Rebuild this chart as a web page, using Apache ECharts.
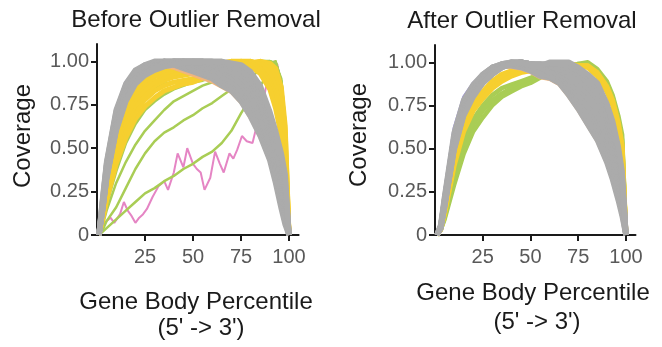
<!DOCTYPE html>
<html>
<head>
<meta charset="utf-8">
<script src="https://cdn.jsdelivr.net/npm/echarts@6.0.0/dist/echarts.min.js"></script>
<style>
  html, body { margin: 0; padding: 0; background: #fff; }
  #chart { width: 662px; height: 347px; }
</style>
</head>
<body>
<div id="chart"></div>
<script>
// gene body percentile positions shared by the curves
const pct = [1, 3, 5, 10, 15, 20, 25, 30, 35, 40, 45, 50, 55, 60, 65, 70, 75, 80, 85, 90, 93, 96, 98, 100]

const yTicks = [0, 0.25, 0.5, 0.75, 1]
const yTickLabels = ['0', '0.25', '0.50', '0.75', '1.00']
const xTicks = [25, 50, 75, 100]

// ---- before outlier removal ----
const grayBefore = [
  [0, 0.22, 0.42, 0.72, 0.87, 0.95, 0.98, 0.99, 0.99, 0.98, 0.96, 0.94, 0.92, 0.90, 0.86, 0.83, 0.77, 0.68, 0.57, 0.43, 0.30, 0.15, 0.06, 0],
  [0, 0.21, 0.41, 0.71, 0.86, 0.94, 0.97, 0.99, 1.00, 0.99, 0.97, 0.95, 0.93, 0.91, 0.88, 0.85, 0.79, 0.71, 0.60, 0.46, 0.33, 0.18, 0.08, 0],
  [0, 0.20, 0.40, 0.70, 0.86, 0.94, 0.98, 1.00, 1.00, 0.99, 0.98, 0.96, 0.94, 0.92, 0.89, 0.86, 0.81, 0.73, 0.63, 0.49, 0.36, 0.21, 0.10, 0],
  [0, 0.19, 0.38, 0.68, 0.84, 0.93, 0.97, 0.99, 1.00, 1.00, 0.99, 0.98, 0.96, 0.95, 0.91, 0.88, 0.83, 0.76, 0.66, 0.52, 0.39, 0.24, 0.12, 0],
  [0, 0.18, 0.36, 0.65, 0.82, 0.91, 0.96, 0.98, 0.99, 1.00, 0.99, 0.99, 0.97, 0.96, 0.92, 0.89, 0.85, 0.78, 0.68, 0.54, 0.42, 0.27, 0.15, 0],
  [0, 0.18, 0.37, 0.66, 0.83, 0.92, 0.96, 0.99, 1.00, 1.00, 1.00, 0.99, 0.98, 0.97, 0.94, 0.91, 0.87, 0.80, 0.71, 0.57, 0.45, 0.30, 0.17, 0],
  [0, 0.17, 0.35, 0.64, 0.81, 0.90, 0.95, 0.98, 0.99, 1.00, 1.00, 1.00, 0.99, 0.98, 0.95, 0.93, 0.89, 0.83, 0.74, 0.60, 0.48, 0.33, 0.20, 0],
  [0, 0.16, 0.34, 0.63, 0.80, 0.90, 0.95, 0.98, 0.99, 1.00, 1.00, 0.99, 0.99, 0.98, 0.96, 0.94, 0.91, 0.85, 0.76, 0.62, 0.50, 0.36, 0.23, 0],
  [0, 0.16, 0.34, 0.62, 0.79, 0.89, 0.94, 0.97, 0.99, 1.00, 1.00, 1.00, 1.00, 0.99, 0.97, 0.96, 0.93, 0.88, 0.79, 0.65, 0.53, 0.39, 0.26, 0],
  [0, 0.15, 0.33, 0.61, 0.78, 0.88, 0.93, 0.97, 0.98, 0.99, 1.00, 1.00, 1.00, 0.99, 0.98, 0.97, 0.95, 0.90, 0.82, 0.67, 0.56, 0.42, 0.29, 0],
  [0, 0.15, 0.33, 0.61, 0.78, 0.88, 0.93, 0.96, 0.98, 0.99, 1.00, 1.00, 1.00, 1.00, 0.99, 0.98, 0.97, 0.92, 0.84, 0.69, 0.58, 0.45, 0.32, 0],
  [0, 0.15, 0.32, 0.60, 0.77, 0.87, 0.92, 0.95, 0.97, 0.98, 0.99, 1.00, 1.00, 1.00, 1.00, 0.99, 0.98, 0.94, 0.86, 0.71, 0.60, 0.47, 0.35, 0]
]
const yellowBefore = [
  [0, 0.15, 0.32, 0.58, 0.75, 0.85, 0.90, 0.94, 0.96, 0.97, 0.97, 0.98, 0.98, 0.99, 0.99, 1.00, 0.99, 0.97, 0.93, 0.84, 0.73, 0.57, 0.40, 0],
  [0, 0.14, 0.31, 0.56, 0.73, 0.83, 0.89, 0.92, 0.95, 0.96, 0.97, 0.97, 0.98, 0.98, 0.99, 0.99, 1.00, 0.98, 0.95, 0.87, 0.77, 0.61, 0.43, 0],
  [0, 0.13, 0.29, 0.54, 0.71, 0.81, 0.87, 0.91, 0.93, 0.95, 0.96, 0.96, 0.97, 0.98, 0.99, 1.00, 1.00, 0.99, 0.96, 0.89, 0.80, 0.64, 0.45, 0],
  [0, 0.12, 0.27, 0.51, 0.68, 0.78, 0.84, 0.88, 0.91, 0.93, 0.94, 0.95, 0.96, 0.97, 0.98, 0.99, 1.00, 1.00, 0.98, 0.93, 0.85, 0.70, 0.50, 0],
  [0, 0.11, 0.25, 0.48, 0.65, 0.75, 0.81, 0.86, 0.89, 0.91, 0.92, 0.93, 0.94, 0.95, 0.97, 0.98, 0.99, 1.00, 0.99, 0.96, 0.90, 0.76, 0.55, 0],
  [0, 0.10, 0.23, 0.45, 0.61, 0.71, 0.78, 0.83, 0.86, 0.88, 0.89, 0.90, 0.92, 0.94, 0.96, 0.97, 0.98, 0.99, 1.00, 0.98, 0.94, 0.81, 0.60, 0],
  [0, 0.09, 0.20, 0.41, 0.56, 0.67, 0.74, 0.79, 0.83, 0.85, 0.87, 0.88, 0.90, 0.92, 0.94, 0.96, 0.97, 0.99, 1.00, 0.99, 0.96, 0.85, 0.63, 0]
]
const greenBefore = [
  [0, 0.10, 0.23, 0.46, 0.64, 0.75, 0.81, 0.85, 0.87, 0.88, 0.89, 0.90, 0.91, 0.92, 0.94, 0.96, 0.98, 0.99, 1.00, 1.00, 0.98, 0.86, 0.60, 0],
  [0, 0.08, 0.18, 0.37, 0.53, 0.64, 0.72, 0.77, 0.81, 0.84, 0.86, 0.88, 0.89, 0.91, 0.93, 0.95, 0.97, 0.98, 0.99, 1.00, 0.99, 0.88, 0.65, 0],
  [0, 0.06, 0.14, 0.30, 0.42, 0.52, 0.60, 0.66, 0.72, 0.77, 0.80, 0.83, 0.86, 0.88, 0.90, 0.92, 0.94, 0.96, 0.98, 1.00, 0.99, 0.90, 0.65, 0],
  [0, 0.03, 0.08, 0.16, 0.27, 0.38, 0.47, 0.54, 0.59, 0.62, 0.66, 0.69, 0.73, 0.76, 0.80, 0.84, 0.88, 0.91, 0.95, 0.99, 1.00, 0.88, 0.60, 0],
  [0, 0.02, 0.04, 0.09, 0.14, 0.19, 0.24, 0.27, 0.31, 0.34, 0.38, 0.41, 0.45, 0.48, 0.53, 0.60, 0.70, 0.79, 0.86, 0.94, 1.00, 0.88, 0.60, 0]
]
const orangeBefore = [0, 0.19, 0.38, 0.68, 0.84, 0.92, 0.96, 0.97, 0.97, 0.96, 0.94, 0.92, 0.90, 0.88, 0.85, 0.82, 0.76, 0.67, 0.56, 0.42, 0.29, 0.14, 0.05, 0]
const purpleBefore = [0, 0.24, 0.44, 0.73, 0.88, 0.95, 0.98, 0.99, 0.99, 0.98, 0.96, 0.94, 0.92, 0.90, 0.87, 0.84, 0.78, 0.70, 0.59, 0.45, 0.32, 0.17, 0.07, 0]
const pinkX = [1, 4, 7, 9, 12, 14, 16, 18, 20, 22, 24, 26, 29, 32, 35, 37, 40, 42, 45, 47, 50, 52, 54, 56, 59, 61.5, 64, 66, 69, 71, 73, 75.5, 78, 81, 83, 85, 88, 90, 92, 94, 96, 98, 100]
const pinkY = [0, 0.07, 0.10, 0.07, 0.12, 0.19, 0.14, 0.11, 0.07, 0.10, 0.12, 0.15, 0.22, 0.28, 0.31, 0.26, 0.36, 0.47, 0.39, 0.50, 0.41, 0.38, 0.36, 0.26, 0.33, 0.48, 0.41, 0.36, 0.47, 0.44, 0.49, 0.57, 0.54, 0.53, 0.62, 0.68, 0.85, 0.95, 1.00, 0.98, 0.85, 0.55, 0]

// ---- after outlier removal ----
const grayAfter = [
  [0, 0.06, 0.22, 0.59, 0.78, 0.87, 0.93, 0.97, 0.98, 0.98, 0.97, 0.95, 0.92, 0.91, 0.88, 0.81, 0.73, 0.64, 0.55, 0.42, 0.32, 0.20, 0.11, 0],
  [0, 0.05, 0.21, 0.57, 0.77, 0.86, 0.93, 0.97, 0.99, 0.99, 0.99, 0.97, 0.95, 0.92, 0.89, 0.83, 0.75, 0.67, 0.58, 0.45, 0.35, 0.23, 0.13, 0],
  [0, 0.05, 0.20, 0.56, 0.76, 0.86, 0.92, 0.97, 0.98, 0.99, 0.98, 0.96, 0.94, 0.92, 0.90, 0.84, 0.77, 0.69, 0.61, 0.48, 0.38, 0.26, 0.15, 0],
  [0, 0.05, 0.20, 0.55, 0.75, 0.85, 0.92, 0.97, 0.99, 1.00, 0.99, 0.98, 0.97, 0.94, 0.91, 0.86, 0.79, 0.72, 0.64, 0.51, 0.41, 0.29, 0.18, 0],
  [0, 0.05, 0.19, 0.54, 0.74, 0.84, 0.91, 0.96, 0.99, 1.00, 1.00, 0.99, 0.98, 0.96, 0.92, 0.87, 0.81, 0.74, 0.66, 0.54, 0.44, 0.32, 0.20, 0],
  [0, 0.05, 0.19, 0.53, 0.73, 0.84, 0.91, 0.96, 0.98, 0.99, 1.00, 0.99, 0.97, 0.95, 0.93, 0.89, 0.83, 0.77, 0.69, 0.57, 0.48, 0.35, 0.23, 0],
  [0, 0.05, 0.18, 0.52, 0.72, 0.83, 0.90, 0.95, 0.98, 1.00, 1.00, 0.99, 0.98, 0.97, 0.94, 0.90, 0.85, 0.79, 0.72, 0.61, 0.52, 0.39, 0.26, 0],
  [0, 0.04, 0.17, 0.51, 0.71, 0.82, 0.89, 0.95, 0.98, 1.00, 1.00, 0.99, 0.98, 0.98, 0.95, 0.92, 0.87, 0.82, 0.76, 0.65, 0.55, 0.42, 0.29, 0],
  [0, 0.04, 0.17, 0.51, 0.71, 0.82, 0.89, 0.94, 0.98, 0.99, 1.00, 0.99, 0.99, 0.98, 0.96, 0.94, 0.90, 0.85, 0.79, 0.68, 0.58, 0.45, 0.31, 0],
  [0, 0.04, 0.16, 0.50, 0.70, 0.81, 0.88, 0.93, 0.97, 0.99, 1.00, 0.99, 0.98, 0.99, 0.98, 0.96, 0.93, 0.88, 0.82, 0.71, 0.61, 0.47, 0.33, 0],
  [0, 0.04, 0.17, 0.50, 0.70, 0.81, 0.88, 0.94, 0.97, 0.99, 1.00, 0.99, 0.99, 0.99, 0.99, 0.98, 0.95, 0.91, 0.85, 0.74, 0.64, 0.49, 0.35, 0],
  [0, 0.04, 0.16, 0.49, 0.69, 0.80, 0.88, 0.93, 0.97, 0.99, 1.00, 0.98, 0.98, 1.00, 1.00, 1.00, 0.97, 0.93, 0.88, 0.76, 0.66, 0.51, 0.37, 0]
]
const yellowAfter = [
  [0, 0.04, 0.14, 0.45, 0.65, 0.76, 0.83, 0.89, 0.93, 0.95, 0.96, 0.97, 0.97, 0.98, 0.99, 0.99, 0.98, 0.97, 0.92, 0.83, 0.75, 0.61, 0.46, 0],
  [0, 0.04, 0.13, 0.42, 0.62, 0.74, 0.81, 0.87, 0.91, 0.93, 0.95, 0.96, 0.97, 0.98, 0.99, 0.99, 0.98, 0.98, 0.93, 0.85, 0.77, 0.63, 0.49, 0],
  [0, 0.03, 0.12, 0.40, 0.60, 0.72, 0.79, 0.85, 0.89, 0.92, 0.94, 0.95, 0.96, 0.97, 0.98, 0.99, 0.98, 0.98, 0.94, 0.86, 0.78, 0.65, 0.52, 0]
]
const greenAfter = [
  [0, 0.03, 0.11, 0.36, 0.56, 0.67, 0.75, 0.81, 0.85, 0.87, 0.89, 0.91, 0.93, 0.95, 0.97, 0.98, 0.98, 0.98, 0.94, 0.86, 0.78, 0.66, 0.53, 0],
  [0, 0.03, 0.10, 0.33, 0.52, 0.64, 0.72, 0.78, 0.82, 0.85, 0.88, 0.90, 0.92, 0.95, 0.97, 0.98, 0.99, 0.99, 0.95, 0.88, 0.80, 0.67, 0.55, 0],
  [0, 0.03, 0.09, 0.29, 0.47, 0.60, 0.68, 0.75, 0.80, 0.83, 0.86, 0.88, 0.91, 0.94, 0.96, 0.98, 0.99, 1.00, 0.96, 0.89, 0.81, 0.69, 0.58, 0]
]
const orangeAfter = [0, 0.05, 0.21, 0.58, 0.77, 0.86, 0.92, 0.96, 0.97, 0.97, 0.96, 0.94, 0.91, 0.90, 0.87, 0.80, 0.72, 0.63, 0.54, 0.41, 0.31, 0.19, 0.10, 0]
const purpleAfter = [0, 0.07, 0.25, 0.62, 0.80, 0.88, 0.93, 0.97, 0.99, 0.99, 0.98, 0.96, 0.94, 0.92, 0.89, 0.84, 0.77, 0.70, 0.62, 0.50, 0.40, 0.28, 0.17, 0]

const GRAY = '#ababab'
const YELLOW = '#f6cf2f'
const GREEN = '#a9cd55'
const ORANGE = '#f1b57c'
const PURPLE = '#9b8fe6'
const PINK = '#e585c4'

function curve(panel, values, color, width) {
  return {
    type: 'line',
    xAxisIndex: panel,
    yAxisIndex: panel,
    data: pct.map((p, i) => [p, values[i]]),
    showSymbol: false,
    silent: true,
    lineStyle: { color: color, width: width, join: 'round' }
  }
}

const series = []
// left panel, back to front
series.push({
  type: 'line',
  xAxisIndex: 0,
  yAxisIndex: 0,
  data: pinkX.map((x, i) => [x, pinkY[i]]),
  showSymbol: false,
  silent: true,
  lineStyle: { color: PINK, width: 2 }
})
greenBefore.slice().reverse().forEach((v, i) => series.push(curve(0, v, GREEN, i < 3 ? 2.5 : 3)))
yellowBefore.slice().reverse().forEach(v => series.push(curve(0, v, YELLOW, 5)))
series.push(curve(0, orangeBefore, ORANGE, 3))
series.push(curve(0, purpleBefore, PURPLE, 3))
grayBefore.forEach(v => series.push(curve(0, v, GRAY, 5.5)))
// right panel
greenAfter.forEach(v => series.push(curve(1, v, GREEN, 4.5)))
yellowAfter.forEach(v => series.push(curve(1, v, YELLOW, 5)))
series.push(curve(1, orangeAfter, ORANGE, 3))
series.push(curve(1, purpleAfter, PURPLE, 3))
grayAfter.forEach(v => series.push(curve(1, v, GRAY, 5.5)))

const fontFamily = '"Liberation Sans", Arial, sans-serif'

function xAxisFor(idx) {
  return {
    type: 'value',
    gridIndex: idx,
    min: 0,
    max: 105,
    axisLine: { show: true, onZero: false, lineStyle: { color: '#1a1a1a', width: 2 } },
    axisTick: { show: true, length: 6, customValues: xTicks, lineStyle: { color: '#1a1a1a', width: 2 } },
    axisLabel: { customValues: xTicks, color: '#595959', fontSize: 20, fontFamily: fontFamily, margin: 12 },
    splitLine: { show: false }
  }
}
function yAxisFor(idx) {
  return {
    type: 'value',
    gridIndex: idx,
    min: 0,
    max: 1.1,
    axisLine: { show: true, onZero: false, lineStyle: { color: '#1a1a1a', width: 2 } },
    axisTick: { show: true, length: 6, customValues: yTicks, lineStyle: { color: '#1a1a1a', width: 2 } },
    axisLabel: {
      customValues: yTicks,
      formatter: v => yTickLabels[yTicks.indexOf(v)],
      color: '#595959', fontSize: 20, fontFamily: fontFamily, margin: 8
    },
    splitLine: { show: false }
  }
}

function label(x, y, text, size, rotate) {
  return {
    type: 'text',
    x: x,
    y: y,
    rotation: rotate ? Math.PI / 2 : 0,
    style: {
      text: text,
      fill: '#1a1a1a',
      font: size + 'px ' + fontFamily,
      textAlign: 'center',
      textVerticalAlign: 'middle'
    }
  }
}

const chart = echarts.init(document.getElementById('chart'))
chart.setOption({
  animation: false,
  backgroundColor: '#fff',
  grid: [
    { left: 97, top: 44, width: 201.6, height: 191 },
    { left: 435, top: 45, width: 200.5, height: 190 }
  ],
  xAxis: [xAxisFor(0), xAxisFor(1)],
  yAxis: [yAxisFor(0), yAxisFor(1)],
  graphic: [
    label(196, 20, 'Before Outlier Removal', 24),
    label(522, 21, 'After Outlier Removal', 24),
    label(23, 136, 'Coverage', 24, true),
    label(359, 135, 'Coverage', 24, true),
    label(196, 302, 'Gene Body Percentile', 24),
    label(201, 328, "(5' -> 3')", 24),
    label(533, 293, 'Gene Body Percentile', 24),
    label(537, 322, "(5' -> 3')", 24)
  ],
  series: series
})
</script>
</body>
</html>
